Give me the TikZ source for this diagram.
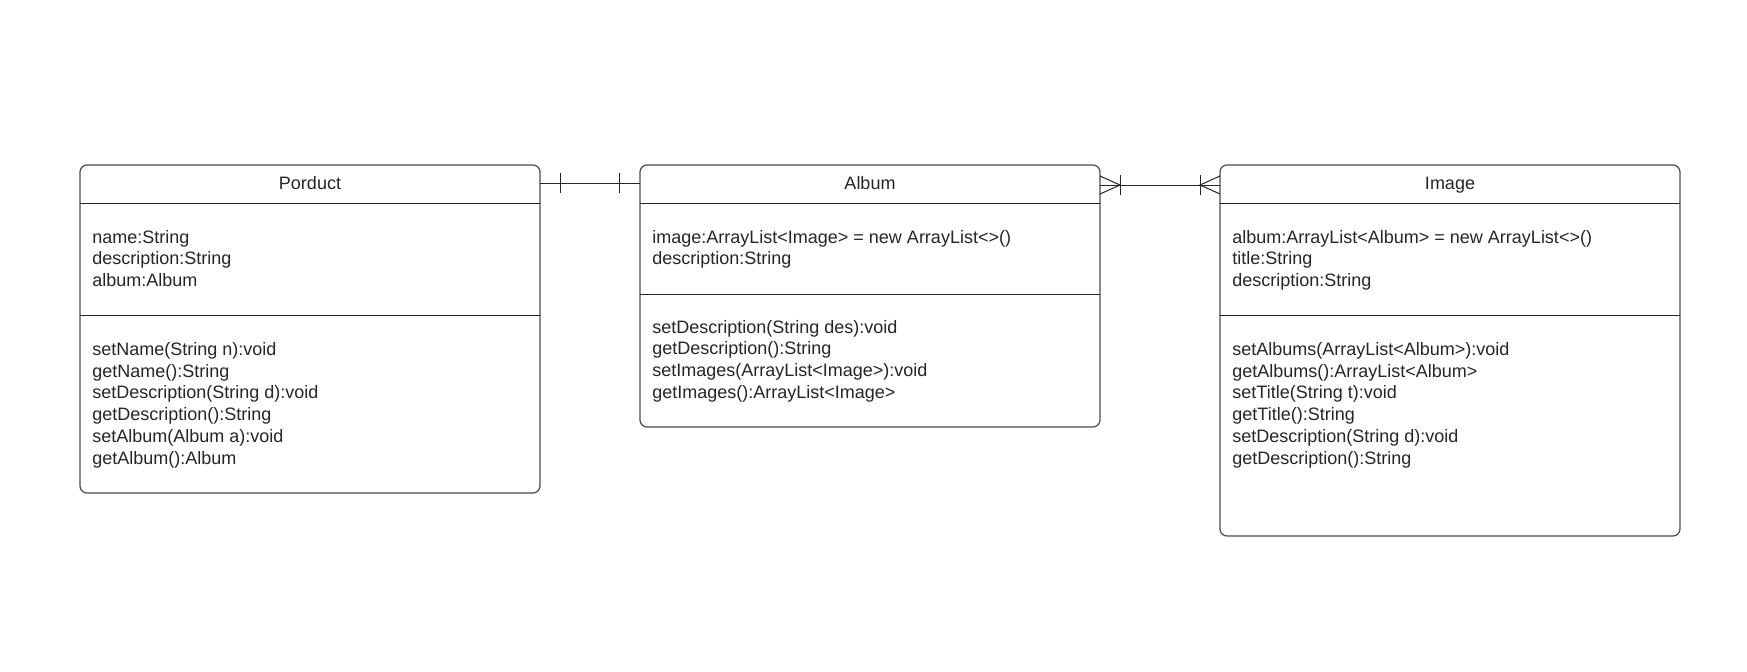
\documentclass[tikz,border=0pt]{standalone}
\usepackage{fontspec}
\setmainfont{Liberation Sans}
\usetikzlibrary{calc}
\begin{document}
\begin{tikzpicture}[x=0.5pt,y=-0.5pt,
  cls/.style={draw=black!70, line width=0.6pt, rounded corners=3.5pt, anchor=north west, inner sep=0pt, outer sep=0pt, minimum width=230pt},
  txt/.style={anchor=base west, inner sep=0pt, font=\fontsize{9}{10.85}\selectfont, text=black!85},
  ttl/.style={anchor=base, inner sep=0pt, font=\fontsize{9}{10.85}\selectfont, text=black!85},
  div/.style={draw=black!85, line width=0.5pt},
  con/.style={draw=black!85, line width=0.5pt}]
\useasboundingbox (0,0) rectangle (1747,671);
\fill[white] (0,0) rectangle (1747,671);

% class boxes
\node[cls, minimum height=164pt] (prod) at (80,165) {};
\node[cls, minimum height=131pt] (album) at (640,165) {};
\node[cls, minimum height=185.5pt] (image) at (1220,165) {};

% titles
\node[ttl] (prodT) at ($(prod.north)+(0,24)$) {Porduct};
\node[ttl] (albumT) at ($(album.north)+(0,24)$) {Album};
\node[ttl] (imageT) at ($(image.north)+(0,24)$) {Image};

% dividers
\draw[div] ($(prod.north west)+(0,38)$) -- ($(prod.north east)+(0,38)$);
\draw[div] ($(prod.north west)+(0,150)$) -- ($(prod.north east)+(0,150)$);
\draw[div] ($(album.north west)+(0,38)$) -- ($(album.north east)+(0,38)$);
\draw[div] ($(album.north west)+(0,129)$) -- ($(album.north east)+(0,129)$);
\draw[div] ($(image.north west)+(0,38)$) -- ($(image.north east)+(0,38)$);
\draw[div] ($(image.north west)+(0,150)$) -- ($(image.north east)+(0,150)$);

% Product texts
\foreach \t [count=\i] in {{name:String},{description:String},{album:Album}}
  \node[txt, name=pa\i] at (92,{243+21.7*(\i-1)}) {\t};
\foreach \t [count=\i] in {{setName(String n):void},{getName():String},{setDescription(String d):void},{getDescription():String},{setAlbum(Album a):void},{getAlbum():Album}}
  \node[txt, name=pm\i] at (92,{355.5+21.7*(\i-1)}) {\t};

% Album texts
\foreach \t [count=\i] in {{image:ArrayList<Image> = new ArrayList<>()},{description:String}}
  \node[txt, name=aa\i] at (652,{243+21.7*(\i-1)}) {\t};
\foreach \t [count=\i] in {{setDescription(String des):void},{getDescription():String},{setImages(ArrayList<Image>):void},{getImages():ArrayList<Image>}}
  \node[txt, name=am\i] at (652,{333+21.7*(\i-1)}) {\t};

% Image texts
\foreach \t [count=\i] in {{album:ArrayList<Album> = new ArrayList<>()},{title:String},{description:String}}
  \node[txt, name=ia\i] at (1232,{243+21.7*(\i-1)}) {\t};
\foreach \t [count=\i] in {{setAlbums(ArrayList<Album>):void},{getAlbums():ArrayList<Album>},{setTitle(String t):void},{getTitle():String},{setDescription(String d):void},{getDescription():String}}
  \node[txt, name=im\i] at (1232,{355.5+21.7*(\i-1)}) {\t};

% connector Product -- Album (one and only one)
\coordinate (c1a) at ($(prod.north east)+(0,18)$);
\coordinate (c1b) at ($(album.north west)+(0,18)$);
\draw[con] (c1a) -- (c1b);
\draw[con] ($(c1a)+(20,-10)$) -- ($(c1a)+(20,10)$);
\draw[con] ($(c1b)+(-21,-10)$) -- ($(c1b)+(-21,10)$);

% connector Album -- Image (one or many both sides)
\coordinate (c2a) at ($(album.north east)+(0,20)$);
\coordinate (c2b) at ($(image.north west)+(0,20)$);
\draw[con] (c2a) -- (c2b);
\draw[con] ($(c2a)+(0,-9)$) -- ($(c2a)+(20,0)$) -- ($(c2a)+(0,9)$);
\draw[con] ($(c2a)+(20,-10)$) -- ($(c2a)+(20,10)$);
\draw[con] ($(c2b)+(0,-9)$) -- ($(c2b)+(-20,0)$) -- ($(c2b)+(0,9)$);
\draw[con] ($(c2b)+(-20,-10)$) -- ($(c2b)+(-20,10)$);
\end{tikzpicture}
\end{document}
